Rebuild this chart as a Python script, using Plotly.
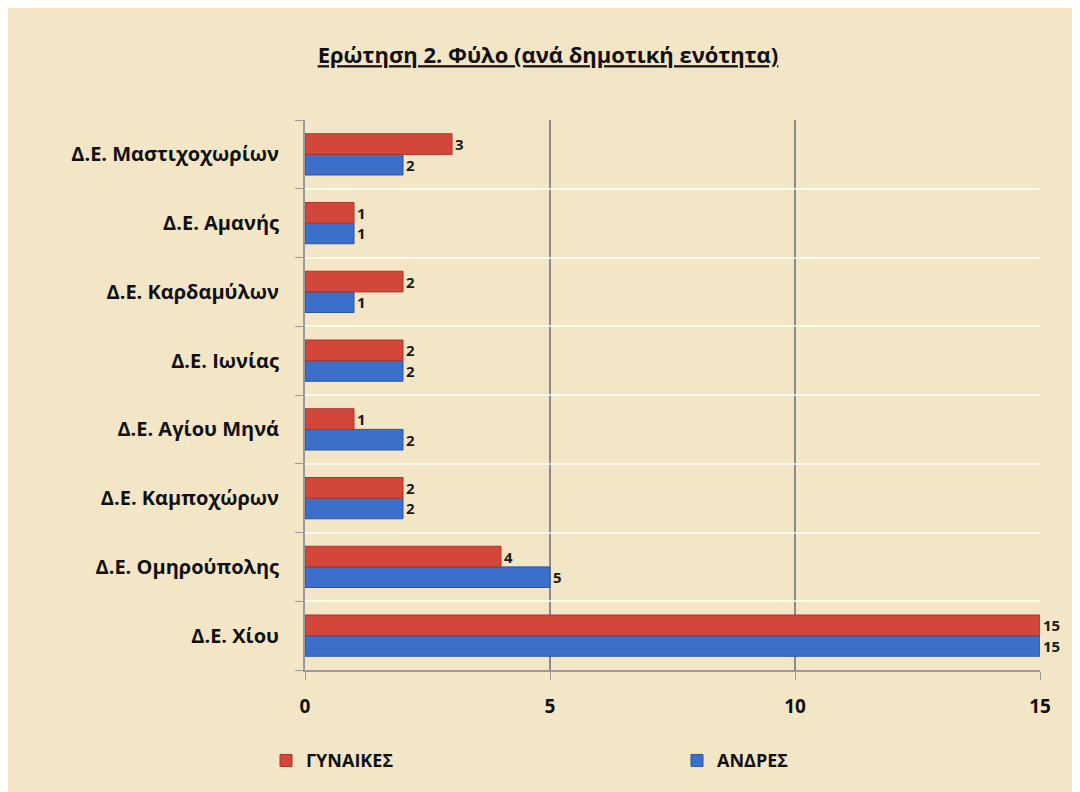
import plotly.graph_objects as go

# categories listed bottom -> top (plotly draws first category at the bottom)
areas = [
    "Δ.Ε. Χίου",
    "Δ.Ε. Ομηρούπολης",
    "Δ.Ε. Καμποχώρων",
    "Δ.Ε. Αγίου Μηνά",
    "Δ.Ε. Ιωνίας",
    "Δ.Ε. Καρδαμύλων",
    "Δ.Ε. Αμανής",
    "Δ.Ε. Μαστιχοχωρίων",
]
women = [15, 4, 2, 1, 2, 2, 1, 3]
men = [15, 5, 2, 2, 2, 1, 1, 2]
x_ticks = [0, 5, 10, 15]

FONT = "Open Sans"
RED = "#D2473A"
BLUE = "#3C6FC9"
label_font = dict(family=FONT, size=15, color="#1a1a1a", weight="bold")

fig = go.Figure()
# men first so the women's bar sits on top inside each group
fig.add_trace(go.Bar(
    y=areas, x=men, orientation="h", name="ΑΝΔΡΕΣ",
    marker=dict(color=BLUE, line=dict(color="#2C55A0", width=1)),
    text=men, textposition="outside", cliponaxis=False, constraintext="none",
    textfont=label_font, legendrank=2,
))
fig.add_trace(go.Bar(
    y=areas, x=women, orientation="h", name="ΓΥΝΑΙΚΕΣ",
    marker=dict(color=RED, line=dict(color="#A8352B", width=1)),
    text=women, textposition="outside", cliponaxis=False, constraintext="none",
    textfont=label_font, legendrank=1,
))

fig.update_layout(
    width=1080, height=792,
    barmode="group", bargap=0.40, bargroupgap=0.0,
    paper_bgcolor="#F2E6C7", plot_bgcolor="#F2E6C7",
    margin=dict(l=297, r=48, t=112, b=130),
    title=dict(
        text="<b><u>Ερώτηση 2. Φύλο (ανά δημοτική ενότητα)</u></b>",
        x=0.5, xanchor="center", y=0.94, yanchor="middle",
        font=dict(family=FONT, size=22, color="#111111"),
    ),
    font=dict(family=FONT, color="#111111"),
    showlegend=True,
    legend=dict(
        orientation="h", x=-0.03, y=-0.165, xanchor="left", yanchor="middle",
        entrywidth=366, entrywidthmode="pixels",
        font=dict(family=FONT, size=18, color="#111111", weight="bold"),
        bgcolor="rgba(0,0,0,0)",
    ),
)
fig.update_xaxes(
    range=[0, 15], tickvals=x_ticks,
    showgrid=True, gridcolor="#8a8a8a", gridwidth=1.5,
    showline=True, linecolor="#9a9a9a", linewidth=2,
    ticks="outside", tickcolor="#9a9a9a", ticklen=8,
    zeroline=False, ticklabelstandoff=10,
    tickfont=dict(family=FONT, size=19, color="#111111", weight="bold"),
)
fig.update_yaxes(
    tickson="boundaries", ticks="outside", tickcolor="#9a9a9a", ticklen=8,
    showline=True, linecolor="#9a9a9a", linewidth=2,
    showgrid=True, gridcolor="rgba(255,255,255,0.7)", gridwidth=2,
    ticklabelstandoff=20,
    tickfont=dict(family=FONT, size=20, color="#111111", weight="bold"),
)

fig.write_html("out.html")
